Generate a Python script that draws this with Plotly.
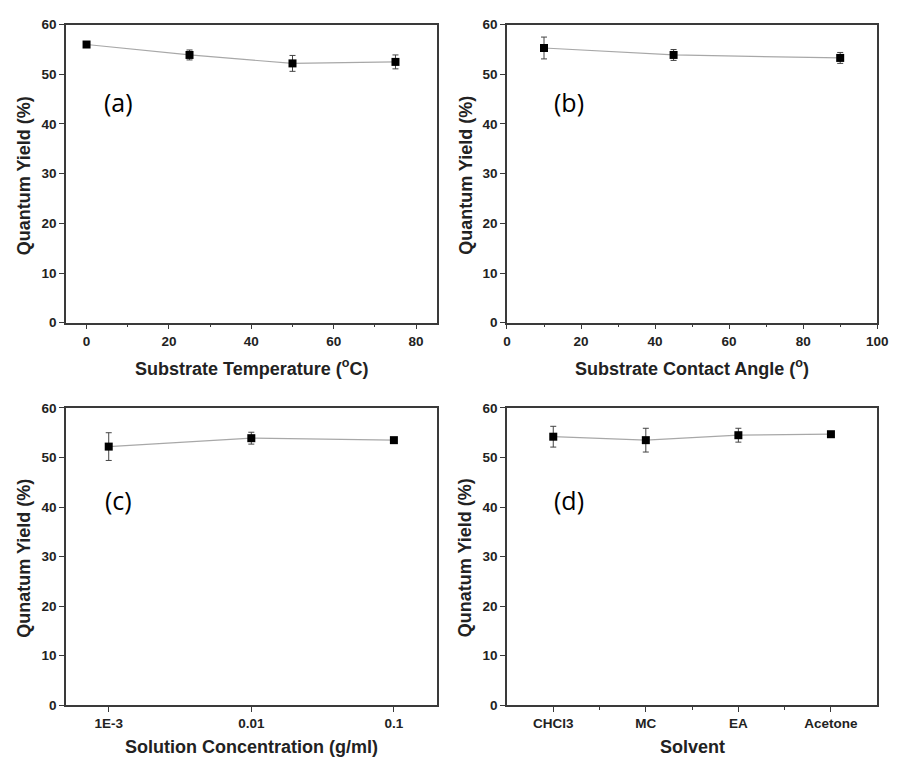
import plotly.graph_objects as go

# ---- data -------------------------------------------------------------
temp_x = [0, 25, 50, 75]
temp_y = [56.0, 53.9, 52.2, 52.5]
temp_err = [0.3, 1.0, 1.6, 1.4]

angle_x = [10, 45, 90]
angle_y = [55.3, 53.9, 53.3]
angle_err = [2.2, 1.1, 1.1]

conc_x = [0.001, 0.01, 0.1]
conc_y = [52.2, 53.9, 53.5]
conc_err = [2.8, 1.2, 0.3]

solvents = ["CHCl3", "MC", "EA", "Acetone"]
solv_y = [54.2, 53.5, 54.5, 54.7]
solv_err = [2.1, 2.4, 1.4, 0.3]

conc_ticks = [0.001, 0.01, 0.1]
conc_ticktext = ["1E-3", "0.01", "0.1"]
y_ticks = [0, 10, 20, 30, 40, 50, 60]

# ---- figure geometry (pixels) ----------------------------------------
W, H = 901, 765
FONT = "Liberation Sans, Arial, sans-serif"
AX = "#3a3a3a"


def px_x(p):
    return p / W


def px_y(p):
    return 1 - p / H


left_dom = [px_x(63), px_x(440)]
right_dom = [px_x(511.5), px_x(888)]
top_dom = [px_y(322), px_y(18)]
bot_dom = [px_y(712), px_y(409)]

fig = go.Figure()


def add_series(x, y, err, xa, ya):
    fig.add_trace(go.Scatter(
        x=x, y=y, xaxis=xa, yaxis=ya, mode="lines+markers",
        line=dict(color="#a8a8a8", width=1.2),
        marker=dict(symbol="square", size=8, color="black"),
        error_y=dict(type="data", array=err, visible=True,
                     color="#444444", thickness=1, width=3),
        showlegend=False, cliponaxis=False,
    ))


add_series(temp_x, temp_y, temp_err, "x", "y")
add_series(angle_x, angle_y, angle_err, "x2", "y2")
add_series(conc_x, conc_y, conc_err, "x3", "y3")
add_series(list(range(len(solvents))), solv_y, solv_err, "x4", "y4")

tickfont = dict(family=FONT, size=13.5, color="#222222", weight="bold")

common_x = dict(showline=True, mirror=True, linecolor=AX, linewidth=1.5,
                ticks="outside", ticklen=5, tickwidth=1.2, tickcolor=AX,
                showgrid=False, zeroline=False, tickfont=tickfont)
common_y = dict(showline=True, mirror=True, linecolor=AX, linewidth=1.5,
                ticks="outside", ticklen=5, tickwidth=1.2, tickcolor=AX,
                showgrid=False, zeroline=False, tickfont=tickfont,
                range=[0, 60], tickvals=y_ticks)
minor = dict(ticks="outside", ticklen=3, tickwidth=1.2, tickcolor=AX)

fig.update_layout(
    width=W, height=H,
    margin=dict(l=0, r=0, t=0, b=0),
    paper_bgcolor="white", plot_bgcolor="white",
    xaxis=dict(common_x, domain=left_dom, anchor="y", range=[-5, 85],
               tickvals=[0, 20, 40, 60, 80],
               minor=dict(minor, tickvals=[10, 30, 50, 70])),
    yaxis=dict(common_y, domain=top_dom, anchor="x"),
    xaxis2=dict(common_x, domain=right_dom, anchor="y2", range=[0, 100],
                tickvals=[0, 20, 40, 60, 80, 100],
                minor=dict(minor, tickvals=[10, 30, 50, 70, 90])),
    yaxis2=dict(common_y, domain=top_dom, anchor="x2"),
    xaxis3=dict(common_x, domain=left_dom, anchor="y3", type="log",
                range=[-3.3, -0.7], tickvals=conc_ticks,
                ticktext=conc_ticktext),
    yaxis3=dict(common_y, domain=bot_dom, anchor="x3"),
    xaxis4=dict(common_x, domain=right_dom, anchor="y4", range=[-0.5, 3.5],
                tickvals=list(range(len(solvents))), ticktext=solvents,
                minor=dict(minor, tickvals=[0.5, 1.5, 2.5])),
    yaxis4=dict(common_y, domain=bot_dom, anchor="x4"),
)

# ---- axis titles -------------------------------------------------------
title_font = dict(family=FONT, size=18, color="#222222", weight="bold")
x_titles = [
    ("Substrate Temperature (<sup>o</sup>C)", 252, 368),
    ("Substrate Contact Angle (<sup>o</sup>)", 700, 368),
    ("Solution Concentration (g/ml)", 252, 755),
    ("Solvent", 700, 755),
]
for text, cx, cy in x_titles:
    fig.add_annotation(text=text, x=px_x(cx), y=px_y(cy), xref="paper",
                       yref="paper", showarrow=False, font=title_font,
                       xanchor="center", yanchor="middle")

y_titles = [
    ("Quantum Yield (%)", 20, 172),
    ("Quantum Yield (%)", 469, 172),
    ("Qunatum Yield (%)", 20, 562),
    ("Qunatum Yield (%)", 469, 562),
]
for text, cx, cy in y_titles:
    fig.add_annotation(text=text, x=px_x(cx), y=px_y(cy), xref="paper",
                       yref="paper", showarrow=False, font=title_font,
                       textangle=-90, xanchor="center", yanchor="middle")

# ---- panel letters -----------------------------------------------------
letter_font = dict(family="Open Sans, Liberation Sans, sans-serif", size=25,
                   color="black")
fig.add_annotation(text="(a)", x=7.7, y=44.5, xref="x", yref="y",
                   showarrow=False, font=letter_font)
fig.add_annotation(text="(b)", x=16.8, y=44.5, xref="x2", yref="y2",
                   showarrow=False, font=letter_font)
fig.add_annotation(text="(c)", x=-2.93, y=41.4, xref="x3", yref="y3",
                   showarrow=False, font=letter_font)
fig.add_annotation(text="(d)", x=0.17, y=41.4, xref="x4", yref="y4",
                   showarrow=False, font=letter_font)

fig.write_html("out.html")
